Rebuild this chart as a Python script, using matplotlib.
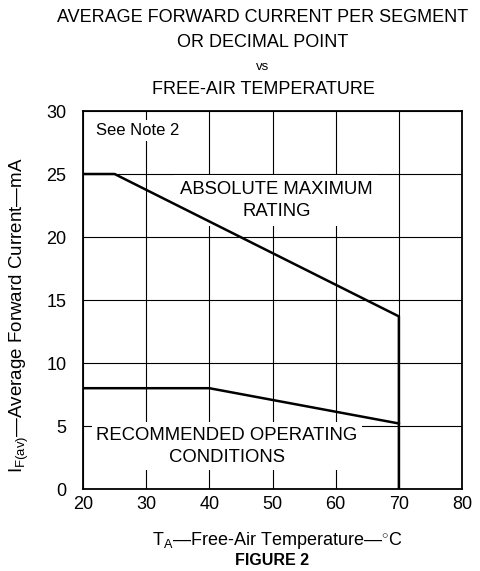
import matplotlib
matplotlib.use('agg')
import matplotlib.pyplot as plt

plt.rcParams['font.family'] = ['Liberation Sans', 'DejaVu Sans']
plt.rcParams['mathtext.fontset'] = 'custom'
plt.rcParams['mathtext.rm'] = 'Liberation Sans'
plt.rcParams['mathtext.it'] = 'Liberation Sans'

# absolute maximum rating curve
abs_temp = [20, 25, 70, 70]
abs_current = [25, 25, 13.7, 0]
# recommended operating conditions curve
rec_temp = [20, 40, 70]
rec_current = [8, 8, 5.2]

x_ticks = [20, 30, 40, 50, 60, 70, 80]
y_ticks = [0, 5, 10, 15, 20, 25, 30]

fig = plt.figure(figsize=(4.81, 5.71), dpi=100)
ax = fig.add_axes([0.1726, 0.1436, 0.788, 0.662])

ax.set_xlim(20, 80)
ax.set_ylim(0, 30)
ax.set_xticks(x_ticks)
ax.set_yticks(y_ticks)
ax.tick_params(length=0, labelsize=13)
ax.tick_params(axis='y', pad=12)
ax.tick_params(axis='x', pad=5)
ax.grid(True, color='black', linewidth=0.8, zorder=0)
ax.set_axisbelow(True)
for spine in ax.spines.values():
    spine.set_linewidth(1.3)

ax.plot(abs_temp, abs_current, color='black', linewidth=1.8, zorder=5)
ax.plot(rec_temp, rec_current, color='black', linewidth=1.8, zorder=5)

ax.text(22.0, 28.45, 'See Note 2', fontsize=12, va='center', ha='left',
        bbox=dict(facecolor='white', edgecolor='none', pad=2), zorder=3)
ax.text(50.6, 22.9, 'ABSOLUTE MAXIMUM\nRATING', fontsize=13.3, ha='center',
        va='center', linespacing=1.4,
        bbox=dict(facecolor='white', edgecolor='none', pad=4), zorder=3)
ax.text(42.8, 3.4, 'RECOMMENDED OPERATING\nCONDITIONS', fontsize=13.3,
        ha='center', va='center', linespacing=1.4,
        bbox=dict(facecolor='white', edgecolor='none', pad=3), zorder=3)

fig.text(0.545, 0.970, 'AVERAGE FORWARD CURRENT PER SEGMENT', fontsize=13,
         ha='center', va='center')
fig.text(0.545, 0.925, 'OR DECIMAL POINT', fontsize=13, ha='center', va='center')
fig.text(0.545, 0.883, 'vs', fontsize=9.5, ha='center', va='center')
fig.text(0.547, 0.844, 'FREE-AIR TEMPERATURE', fontsize=13, ha='center', va='center')

fig.text(0.576, 0.054, r'T$_{\mathrm{A}}$—Free-Air Temperature—$^{\circ}$C',
         fontsize=13, ha='center', va='center')
fig.text(0.566, 0.019, 'FIGURE 2', fontsize=11.5, fontweight='bold',
         ha='center', va='center')
fig.text(0.040, 0.448, r'I$_{\mathrm{F(av)}}$—Average Forward Current—mA',
         fontsize=13.5, ha='center', va='center', rotation=90)

fig.savefig('out.png', dpi=100)
